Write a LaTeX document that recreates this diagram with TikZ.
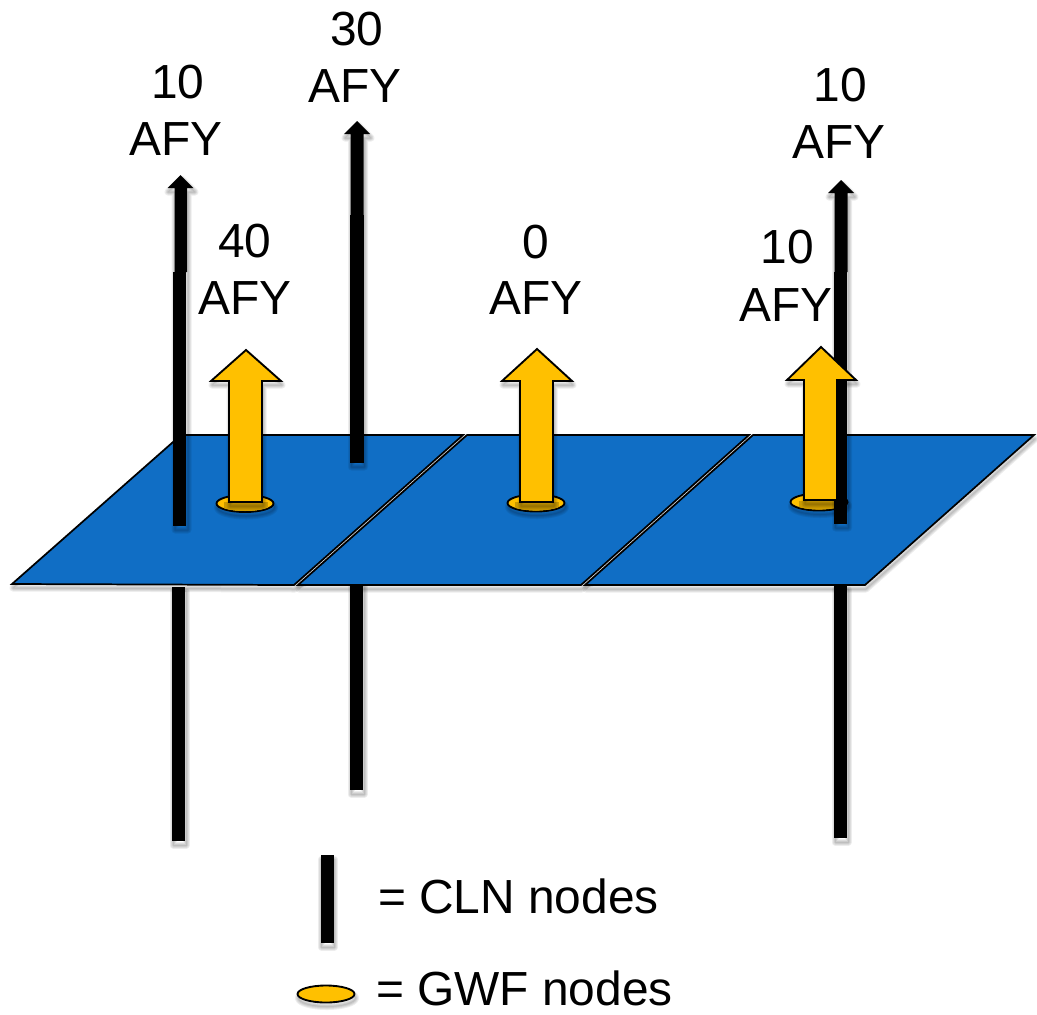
\documentclass[tikz,border=0pt]{standalone}
\usepackage{fontspec}
\setmainfont{Liberation Sans}
\definecolor{planeblue}{HTML}{106EC5}
\definecolor{flowyellow}{HTML}{FFC000}
\definecolor{shadedyellow}{HTML}{CC9A00}
\newcommand{\softshadow}[1]{%
  \foreach \w in {7,5,3,1}{%
    \draw[black,opacity=.07,line width=\w*0.75pt,line join=round,shift={(1,4)}] #1;}}
\tikzset{
  x=0.75pt,y=-0.75pt,
  plane/.style={fill=planeblue,draw=black,line width=1.3pt,line join=miter},
  cln/.style={fill=black,draw=none},
  gwf/.style={fill=flowyellow,draw=black,line width=1.4pt},
  flow/.style={fill=flowyellow,draw=black,line width=1.4pt,line join=miter},
  lbl/.style={font=\fontsize{35.9pt}{42pt}\selectfont,text=black,anchor=base,inner sep=0pt,outer sep=0pt},
  lgd/.style={font=\fontsize{35.9pt}{42pt}\selectfont,text=black,anchor=base west,inner sep=0pt,outer sep=0pt}
}
\begin{document}
\begin{tikzpicture}
\useasboundingbox (0,0) rectangle (1037,1014);
% lower well bars
\softshadow{(172,587) rectangle (185,841)}
\softshadow{(350,582) rectangle (363,790)}
\softshadow{(834,585) rectangle (847,838)}
\fill[cln] (172,587) rectangle (185,841);
\fill[cln] (350,582) rectangle (363,790);
\fill[cln] (834,585) rectangle (847,838);
% planes
\softshadow{(12,584) -- (294,585) -- (463,435) -- (181,435) -- cycle}
\softshadow{(298,585) -- (581,585) -- (749,435) -- (467,435) -- cycle}
\softshadow{(585,585) -- (865,585) -- (1034,435) -- (753,435) -- cycle}
\path[plane] (12,584) -- (294,585) -- (463,435) -- (181,435) -- cycle;
\path[plane] (298,585) -- (581,585) -- (749,435) -- (467,435) -- cycle;
\path[plane] (585,585) -- (865,585) -- (1034,435) -- (753,435) -- cycle;
% GWF nodes
\softshadow{(245,503.5) ellipse (28.5 and 8.5)}
\softshadow{(536,503) ellipse (28.5 and 8.5)}
\softshadow{(819,502) ellipse (28.5 and 8.5)}
\path[gwf] (245,503.5) ellipse (28.5 and 8.5);
\path[gwf] (536,503) ellipse (28.5 and 8.5);
\path[gwf] (819,502) ellipse (28.5 and 8.5);
\begin{scope}
  \clip (245,503.5) ellipse (27.5 and 7.5);
  \fill[shadedyellow] (224,502) rectangle (268,512);
\end{scope}
\begin{scope}
  \clip (536,503) ellipse (27.5 and 7.5);
  \fill[shadedyellow] (515,502) rectangle (559,512);
\end{scope}
\begin{scope}
  \clip (819,502) ellipse (27.5 and 7.5);
  \fill[shadedyellow] (799,501) rectangle (843,511);
\end{scope}
% upper well bars and arrows
\softshadow{(174,526) -- (174,188) -- (167,188) -- (180.5,175) -- (194,188) -- (187,188) -- (187,526) -- cycle}
\softshadow{(350.5,463) -- (350.5,134) -- (344,134) -- (357,121) -- (370,134) -- (363.5,134) -- (363.5,463) -- cycle}
\softshadow{(834.5,524) -- (834.5,193) -- (828,193) -- (841,180) -- (854,193) -- (847.5,193) -- (847.5,524) -- cycle}
\fill[cln] (174.5,272) -- (174.5,188) -- (167.5,188) -- (180.5,175) -- (193.5,188) -- (187,188) -- (187,272) -- cycle;
\fill[cln] (173,272) rectangle (186,526);
\fill[cln] (350.5,215) -- (350.5,134) -- (344,134) -- (357,121) -- (370,134) -- (363.5,134) -- (363.5,215) -- cycle;
\fill[cln] (350,215) rectangle (364,463);
\fill[cln] (834.5,272) -- (834.5,193) -- (828,193) -- (841,180) -- (854,193) -- (847.5,193) -- (847.5,272) -- cycle;
\fill[cln] (834,272) rectangle (847,524);
% flow arrows
\softshadow{(229,502) -- (229,381) -- (211,381) -- (246,350) -- (281,381) -- (262,381) -- (262,502) -- cycle}
\softshadow{(520,502) -- (520,381) -- (502,381) -- (537,349) -- (572,381) -- (553,381) -- (553,502) -- cycle}
\softshadow{(804,500) -- (804,380) -- (787,380) -- (821,347) -- (856,380) -- (837,380) -- (837,500) -- cycle}
\path[flow] (229,502) -- (229,381) -- (211,381) -- (246,350) -- (281,381) -- (262,381) -- (262,502) -- cycle;
\path[flow] (520,502) -- (520,381) -- (502,381) -- (537,349) -- (572,381) -- (553,381) -- (553,502) -- cycle;
\path[flow] (804,500) -- (804,380) -- (787,380) -- (821,347) -- (856,380) -- (837,380) -- (837,500) -- cycle;
% labels
\node[lbl] (a1) at (178,98) {10};
\node[lbl] (a2) at (176,155) {AFY};
\node[lbl] (b1) at (357,45) {30};
\node[lbl] (b2) at (355,102) {AFY};
\node[lbl] (c1) at (245,257) {40};
\node[lbl] (c2) at (245,314) {AFY};
\node[lbl] (d1) at (536,258) {0};
\node[lbl] (d2) at (536,314) {AFY};
\node[lbl] (e1) at (787,263) {10};
\node[lbl] (e2) at (786,321) {AFY};
\node[lbl] (f1) at (840,101) {10};
\node[lbl] (f2) at (839,158) {AFY};
% legend
\softshadow{(320.5,855) rectangle (333.5,943)}
\fill[cln] (320.5,855) rectangle (333.5,943);
\softshadow{(326,994) ellipse (28.5 and 8.5)}
\path[gwf] (326,994) ellipse (28.5 and 8.5);
\node[lgd] (g1) at (378,913) {= CLN nodes};
\node[lgd] (g2) at (376,1005) {= GWF nodes};
\end{tikzpicture}
\end{document}
